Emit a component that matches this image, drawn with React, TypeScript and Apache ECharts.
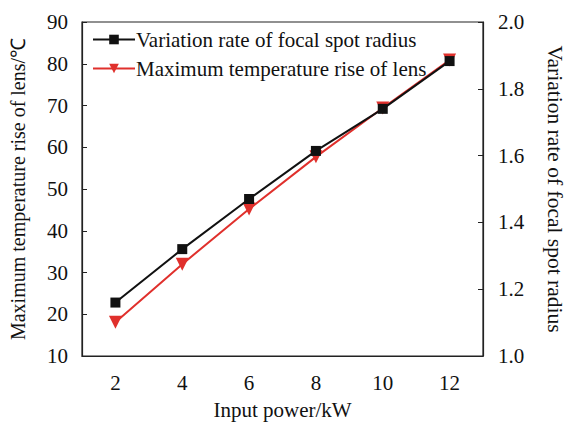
import React, { useEffect, useRef } from "react";
import * as echarts from "echarts";

const categories = ["2", "4", "6", "8", "10", "12"];
const focalSpotRate = [1.16, 1.32, 1.47, 1.614, 1.74, 1.883];
const tempRise = [18.1, 32.0, 45.2, 57.7, 69.4, 80.9];
const nameFocal = "Variation rate of focal spot radius";
const nameTemp = "Maximum temperature rise of lens";

const FONT = "'Liberation Serif', 'Times New Roman', serif";

export default function App() {
  const ref = useRef<HTMLDivElement>(null);
  useEffect(() => {
    if (!ref.current) return;
    const chart = echarts.init(ref.current, undefined, { renderer: "svg" });
    chart.setOption({
      animation: false,
      backgroundColor: "#fff",
      textStyle: { fontFamily: FONT, color: "#111" },
      grid: {
        left: 81,
        right: 77,
        top: 22,
        bottom: 70,
        show: true,
        borderColor: "#222",
        borderWidth: 1.2,
      },
      legend: {
        data: [nameFocal, nameTemp],
        orient: "vertical",
        left: 87,
        top: 24,
        itemWidth: 42,
        itemHeight: 12,
        itemGap: 8,
        textStyle: { fontFamily: FONT, fontSize: 21, color: "#111", padding: [0, 0, 0, -4] },
      },
      xAxis: {
        type: "category",
        data: categories,
        boundaryGap: true,
        name: "Input power/kW",
        nameLocation: "middle",
        nameGap: 43,
        nameTextStyle: { fontFamily: FONT, fontSize: 21, color: "#111" },
        axisLine: { lineStyle: { color: "#222", width: 1.2 } },
        axisTick: { inside: true, alignWithLabel: true, length: 5, lineStyle: { color: "#222" } },
        axisLabel: { margin: 16, fontFamily: FONT, fontSize: 21, color: "#111" },
        splitLine: { show: false },
      },
      yAxis: [
        {
          type: "value",
          min: 10,
          max: 90,
          interval: 10,
          position: "left",
          name: "Maximum temperature rise of lens/\u2103",
          nameLocation: "middle",
          nameGap: 54,
          nameTextStyle: { fontFamily: FONT, fontSize: 20, color: "#111" },
          axisLine: { show: true, lineStyle: { color: "#222", width: 1.2 } },
          axisTick: { show: true, inside: true, length: 5, lineStyle: { color: "#222" } },
          axisLabel: { margin: 14, fontFamily: FONT, fontSize: 21, color: "#111" },
          splitLine: { show: false },
        },
        {
          type: "value",
          min: 1.0,
          max: 2.0,
          interval: 0.2,
          position: "right",
          name: "Variation rate of focal spot radius",
          nameLocation: "middle",
          nameGap: 61,
          nameRotate: -90,
          nameTextStyle: { fontFamily: FONT, fontSize: 21.5, color: "#111" },
          axisLine: { show: true, lineStyle: { color: "#222", width: 1.2 } },
          axisTick: { show: true, inside: true, length: 5, lineStyle: { color: "#222" } },
          axisLabel: {
            margin: 15,
            fontFamily: FONT,
            fontSize: 21,
            color: "#111",
            formatter: (v: number) => v.toFixed(1),
          },
          splitLine: { show: false },
        },
      ],
      series: [
        {
          name: nameTemp,
          type: "line",
          yAxisIndex: 0,
          data: tempRise,
          symbol: "triangle",
          symbolRotate: 180,
          symbolSize: 13,
          lineStyle: { color: "#e0302c", width: 2 },
          itemStyle: { color: "#e0302c" },
          z: 2,
        },
        {
          name: nameFocal,
          type: "line",
          yAxisIndex: 1,
          data: focalSpotRate,
          symbol: "rect",
          symbolSize: 10,
          lineStyle: { color: "#111", width: 2 },
          itemStyle: { color: "#111" },
          z: 3,
        },
      ],
    });
    return () => chart.dispose();
  }, []);
  return <div ref={ref} style={{ width: 574, height: 426, position: "absolute", left: 0, top: 0 }} />;
}
